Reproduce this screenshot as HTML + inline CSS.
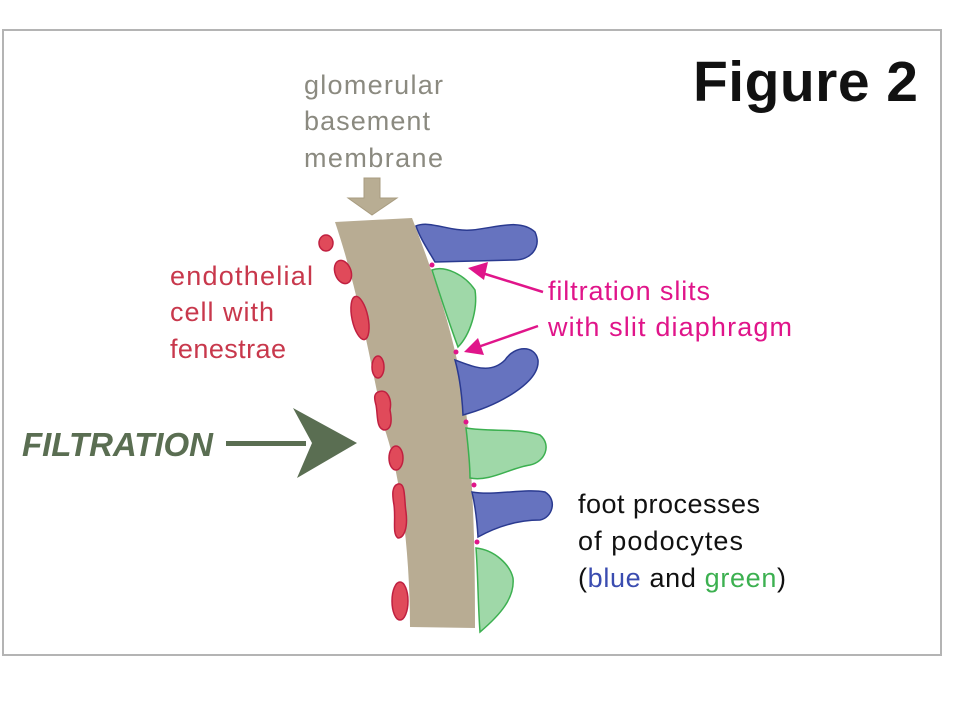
<!DOCTYPE html>
<html><head><style>
body{margin:0;background:#fff;}
svg{display:block}
</style></head><body>
<svg width="960" height="720" viewBox="0 0 960 720" xmlns="http://www.w3.org/2000/svg" font-family="'Liberation Sans', sans-serif">
<rect x="3" y="30" width="938" height="625" fill="#fff" stroke="#b4b4b4" stroke-width="2"/>
<text x="693" y="101" font-size="57" font-weight="bold" fill="#111" textLength="225">Figure 2</text>
<g font-size="27" fill="#8b8a80">
<text x="304" y="94" textLength="139">glomerular</text>
<text x="304" y="130" textLength="126">basement</text>
<text x="304" y="167" textLength="139">membrane</text>
</g>
<path d="M364,178 H380 V198 H397 L372,215 L348,198 H364 Z" fill="#b8ad93" stroke="#a89c80" stroke-width="1"/>
<g font-size="27" fill="#c8384c">
<text x="170" y="285" textLength="143">endothelial</text>
<text x="170" y="321" textLength="104">cell with</text>
<text x="170" y="358" textLength="116">fenestrae</text>
</g>
<text x="22" y="456" font-size="33" font-weight="bold" font-style="italic" fill="#5a6e52" textLength="191">FILTRATION</text>
<rect x="226" y="441" width="80" height="5" fill="#5a6e52"/>
<path d="M293,408 L357,443 L297,478 L312,443 Z" fill="#5a6e52"/>
<path d="M335,222 L412,218 C440,290 462,360 468,430 C474,500 475,560 475,628 L410,627 C410,560 402,480 385,430 C370,360 358,290 335,222 Z" fill="#b8ac93"/>
<g fill="#e04a5a" stroke="#c02040" stroke-width="1.5">
<ellipse cx="326" cy="243" rx="7" ry="8"/>
<ellipse cx="343" cy="272" rx="8" ry="12" transform="rotate(-20 343 272)"/>
<ellipse cx="360" cy="318" rx="8" ry="22" transform="rotate(-12 360 318)"/>
<ellipse cx="378" cy="367" rx="6" ry="11"/>
<path d="M378,392 C388,388 392,400 390,410 C392,420 392,430 384,430 C376,428 378,415 376,405 C374,398 374,394 378,392Z"/>
<ellipse cx="396" cy="458" rx="7" ry="12"/>
<path d="M398,484 C406,482 404,500 406,512 C408,528 404,538 398,538 C392,534 396,520 394,505 C392,494 392,486 398,484Z"/>
<ellipse cx="400" cy="601" rx="8" ry="19"/>
</g>
<g fill="#6673bf" stroke="#2a3a90" stroke-width="1.5">
<path d="M416,226 C430,220 450,232 472,230 C495,228 520,218 535,232 C542,248 530,260 515,260 L435,262 C428,250 420,238 416,226Z"/>
<path d="M455,360 C472,366 490,375 505,360 C515,345 535,345 538,360 C540,382 500,405 463,415 C462,395 460,378 455,360Z"/>
<path d="M472,492 C495,496 525,488 545,492 C558,500 552,518 540,520 C520,520 500,525 478,537 C477,520 475,505 472,492Z"/>
</g>
<g fill="#9fd8a8" stroke="#3cb050" stroke-width="1.5">
<path d="M432,270 C445,265 465,275 475,290 C478,310 470,335 458,347 C448,320 440,295 432,270Z"/>
<path d="M466,428 C490,432 520,428 540,435 C552,445 545,462 530,465 C510,468 490,482 470,478 C470,462 468,445 466,428Z"/>
<path d="M476,548 C495,550 510,565 513,578 C515,598 500,615 480,632 C478,605 478,575 476,548Z"/>
</g>
<g fill="#e0158a">
<circle cx="432" cy="265" r="2.5"/><circle cx="456" cy="352" r="2.5"/><circle cx="466" cy="422" r="2.5"/><circle cx="474" cy="485" r="2.5"/><circle cx="477" cy="542" r="2.5"/>
</g>
<g stroke="#e0158a" stroke-width="2.5" fill="#e0158a">
<line x1="543" y1="292" x2="482" y2="273"/>
<line x1="538" y1="326" x2="478" y2="347"/>
</g>
<path d="M468,268 L488,262 L484,280 Z" fill="#e0158a"/>
<path d="M464,352 L478,338 L484,355 Z" fill="#e0158a"/>
<g font-size="27" fill="#e0158a">
<text x="548" y="300" textLength="162">filtration slits</text>
<text x="548" y="336" textLength="244">with slit diaphragm</text>
</g>
<g font-size="27" fill="#111">
<text x="578" y="513" textLength="182">foot processes</text>
<text x="578" y="550" textLength="165">of podocytes</text>
<text x="578" y="587" textLength="208">(<tspan fill="#3a4cb0">blue</tspan> and <tspan fill="#3cb050">green</tspan>)</text>
</g>
</svg>
</body></html>
